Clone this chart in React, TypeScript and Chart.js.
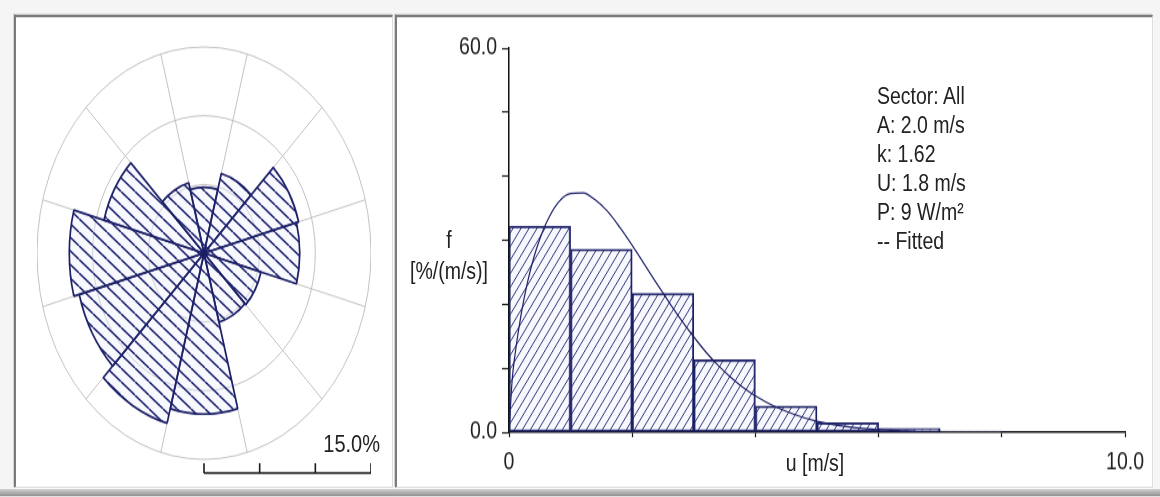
import React, { useEffect, useRef } from 'react';
import { Chart, registerables } from 'chart.js';

Chart.register(...registerables);

// The original screenshot is stretched vertically by this factor.
const K = 1.235;

// ---- Wind rose (frequency per 30° sector, %) ----
const sectorLabels = ['0°', '30°', '60°', '90°', '120°', '150°', '180°', '210°', '240°', '270°', '300°', '330°'];
const sectorFrequency = [4.8, 6.0, 8.8, 8.6, 5.3, 5.2, 11.7, 12.8, 11.6, 12.1, 9.3, 5.3];
const roseRingStep = 5;
const roseMax = 15;
const roseScaleTicks = [0, 5, 10, 15];
const roseScaleLabel = '15.0%';

// ---- Wind speed histogram (%/(m/s)) ----
const speedBinCenters = [0.5, 1.5, 2.5, 3.5, 4.5, 5.5, 6.5, 7.5];
const binFrequency = [32.2, 28.6, 21.7, 11.3, 4.1, 1.5, 0.6, 0.2];
const fittedSpeeds = [0, 0.05, 0.1, 0.2, 0.3, 0.4, 0.5, 0.6, 0.8, 1.0, 1.2, 1.4, 1.6, 1.8, 2.0, 2.2, 2.4, 2.6, 2.8, 3.0, 3.2, 3.4, 3.6, 3.8, 4.0, 4.3, 4.6, 5.0, 5.4, 5.8, 6.2, 6.6];
const fittedFrequency = [0, 8.0, 12.3, 18.6, 23.4, 27.2, 30.2, 32.6, 35.9, 37.3, 37.4, 36.3, 34.5, 32.0, 29.2, 26.2, 23.2, 20.3, 17.5, 14.9, 12.5, 10.4, 8.6, 7.0, 5.7, 4.1, 2.9, 1.7, 1.0, 0.56, 0.31, 0.16];
const xTickLabels: Record<number, string> = { 0: '0', 10: '10.0' };
const yTickLabels: Record<number, string> = { 0: '0.0', 60: '60.0' };
const xAxisTitle = 'u [m/s]';
const yAxisTitle = ['f', '[%/(m/s)]'];
const statsLines = ['Sector: All', 'A: 2.0 m/s', 'k: 1.62', 'U: 1.8 m/s', 'P: 9 W/m²', '-- Fitted'];

const NAVY = '#1b1f66';
const FONT_FAMILY = "'Liberation Sans', Arial, sans-serif";
const TEXT = '#222';

function hatch(w: number, h: number, dir: 'back' | 'fwd', line: string, bg: string, lw: number) {
  const c = document.createElement('canvas');
  c.width = w;
  c.height = h;
  const g = c.getContext('2d')!;
  g.fillStyle = bg;
  g.fillRect(0, 0, w, h);
  g.strokeStyle = line;
  g.lineWidth = lw;
  g.beginPath();
  for (let k = -1; k <= 1; k++) {
    if (dir === 'back') {
      g.moveTo(k * w, 0);
      g.lineTo(k * w + w, h);
    } else {
      g.moveTo(k * w, h);
      g.lineTo(k * w + w, 0);
    }
  }
  g.stroke();
  return g.createPattern(c, 'repeat');
}

const scaleBarPlugin = {
  id: 'scaleBar',
  afterDraw(chart: any) {
    const r = chart.scales.r;
    const ctx = chart.ctx;
    const y = chart.height - 4;
    ctx.save();
    ctx.strokeStyle = '#1a1a1a';
    ctx.lineWidth = 1.6;
    ctx.beginPath();
    ctx.moveTo(r.xCenter, y);
    ctx.lineTo(r.xCenter + r.getDistanceFromCenterForValue(roseScaleTicks[roseScaleTicks.length - 1]), y);
    for (const v of roseScaleTicks) {
      const x = r.xCenter + r.getDistanceFromCenterForValue(v);
      ctx.moveTo(x, y);
      ctx.lineTo(x, y - 8);
    }
    ctx.stroke();
    ctx.restore();
  },
};

const textStyle: React.CSSProperties = {
  position: 'absolute',
  fontFamily: FONT_FAMILY,
  fontSize: 19.5,
  color: TEXT,
  whiteSpace: 'nowrap',
  lineHeight: '23.5px',
};

function panel(left: number, width: number): React.CSSProperties {
  return {
    position: 'absolute',
    left,
    top: 12,
    width,
    height: 383,
    boxSizing: 'border-box',
    background: '#ffffff',
    borderTop: '2px solid #7a7a7a',
    borderLeft: '2px solid #7a7a7a',
    borderRight: '1px solid #dcdcdc',
    borderBottom: '1px solid #dcdcdc',
    boxShadow: '-1px -1px 0 #d2d2d2, 1px 1px 0 #f9f9f9',
  };
}

export default function App() {
  const roseRef = useRef<HTMLCanvasElement>(null);
  const histRef = useRef<HTMLCanvasElement>(null);

  useEffect(() => {
    const rosePattern = hatch(14, 11, 'back', '#1f2470', 'rgba(236,238,252,0.35)', 1.5);
    const histPattern = hatch(8, 11, 'fwd', '#2a2f75', 'rgba(238,240,252,0.4)', 1);
    const tickFont = { family: FONT_FAMILY, size: 19.5 };

    const rose = new Chart(roseRef.current!, {
      type: 'polarArea',
      data: {
        labels: sectorLabels,
        datasets: [
          {
            data: sectorFrequency,
            backgroundColor: rosePattern as any,
            borderColor: NAVY,
            borderWidth: 1.7,
          },
        ],
      },
      options: {
        responsive: false,
        animation: false,
        events: [],
        plugins: { legend: { display: false }, tooltip: { enabled: false } },
        scales: {
          r: {
            min: 0,
            max: roseMax,
            startAngle: -15,
            ticks: { display: false, stepSize: roseRingStep },
            grid: { circular: true, color: '#c2c2c2', lineWidth: 1 },
            angleLines: { display: true, color: '#c2c2c2', lineWidth: 1 },
            pointLabels: { display: false },
          },
        },
      } as any,
      plugins: [scaleBarPlugin],
    });

    const hist = new Chart(histRef.current!, {
      type: 'bar',
      data: {
        datasets: [
          {
            type: 'line',
            data: fittedSpeeds.map((x, i) => ({ x, y: fittedFrequency[i] })),
            borderColor: NAVY,
            borderWidth: 1.2,
            pointRadius: 0,
            cubicInterpolationMode: 'monotone',
            fill: false,
            order: 0,
          } as any,
          {
            type: 'bar',
            data: speedBinCenters.map((x, i) => ({ x, y: binFrequency[i] })),
            backgroundColor: histPattern as any,
            borderColor: NAVY,
            borderWidth: 1.5,
            borderSkipped: false,
            barPercentage: 1,
            categoryPercentage: 1,
            order: 1,
          } as any,
        ],
      },
      options: {
        responsive: false,
        animation: false,
        events: [],
        layout: { padding: { top: 26, right: 27, left: 0, bottom: 0 } },
        plugins: { legend: { display: false }, tooltip: { enabled: false } },
        scales: {
          x: {
            type: 'linear',
            min: 0,
            max: 10,
            offset: false,
            grid: { offset: false, drawOnChartArea: false, drawTicks: true, tickLength: 4, color: '#1a1a1a', tickWidth: 1.2 },
            border: { display: true, color: '#111', width: 1.5 },
            ticks: {
              stepSize: 2,
              autoSkip: false,
              maxRotation: 0,
              padding: 9,
              font: tickFont,
              color: TEXT,
              callback: (v: any) => xTickLabels[v] ?? '',
            },
            afterFit: (s: any) => {
              s.height = 43;
            },
          },
          y: {
            min: 0,
            max: 60,
            grid: { drawOnChartArea: false, drawTicks: true, tickLength: 7, color: '#1a1a1a', tickWidth: 1.2 },
            border: { display: true, color: '#111', width: 1.5 },
            ticks: {
              stepSize: 10,
              autoSkip: false,
              padding: 5,
              font: tickFont,
              color: TEXT,
              callback: (v: any) => yTickLabels[v] ?? '',
            },
            afterFit: (s: any) => {
              s.width = 111;
            },
          },
        },
      } as any,
    });

    return () => {
      rose.destroy();
      hist.destroy();
    };
  }, []);

  return (
    <div
      style={{
        position: 'fixed',
        left: 0,
        top: 0,
        width: 1160,
        height: 497 / K,
        transform: `scaleY(${K})`,
        transformOrigin: '0 0',
        background: '#f5f5f5',
        overflow: 'hidden',
      }}
    >
      <div style={panel(14, 379)} />
      <div style={panel(395, 758)} />
      <div
        style={{
          position: 'absolute',
          left: 0,
          top: 396,
          width: 1160,
          height: 497 / K - 396,
          background: 'linear-gradient(#cfcfcf, #8e8e8e)',
        }}
      />
      <canvas
        ref={roseRef}
        width={334}
        height={364}
        style={{ position: 'absolute', left: 37, top: 23, display: 'block' }}
      />
      <div style={{ ...textStyle, fontSize: 20, right: 1160 - 380, top: 347.5, textAlign: 'right' }}>{roseScaleLabel}</div>

      <canvas
        ref={histRef}
        width={755}
        height={380}
        style={{ position: 'absolute', left: 398, top: 13, display: 'block' }}
      />
      {yAxisTitle.map((t, i) => (
        <div
          key={t}
          style={{ ...textStyle, left: 389, width: 120, textAlign: 'center', top: (i === 0 ? 194.3 : 220.2) - 11.75 }}
        >
          {t}
        </div>
      ))}
      <div style={{ ...textStyle, left: 715, width: 200, textAlign: 'center', top: 363.2 }}>{xAxisTitle}</div>
      <div style={{ ...textStyle, left: 877, top: 66 }}>
        {statsLines.map((t) => (
          <div key={t}>{t}</div>
        ))}
      </div>
    </div>
  );
}
